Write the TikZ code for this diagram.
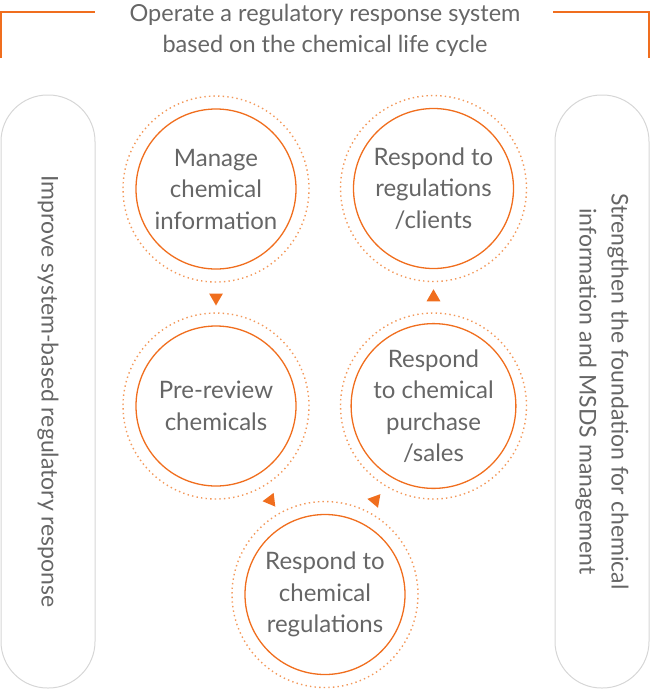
\documentclass[tikz,border=0pt]{standalone}
\usepackage{fontspec}
\setmainfont{Lato}
\usetikzlibrary{shapes.geometric, positioning, calc}
\definecolor{lcOrange}{HTML}{F06E1E}
\definecolor{lcDot}{HTML}{F3985A}
\definecolor{lcText}{HTML}{666666}
\definecolor{lcPill}{HTML}{D6D6D6}

\begin{document}
\begin{tikzpicture}[x=1pt, y=-1pt,
  stage/.style={circle, draw=lcOrange, line width=1.3pt, minimum size=160pt,
    inner sep=0pt, align=center, text=lcText,
    font=\fontsize{24}{31.5}\selectfont},
  halo/.style={circle, draw=lcDot, line width=1.4pt,
    dash pattern=on 1.4pt off 3.2pt, minimum size=186pt, inner sep=0pt},
  tip/.style={regular polygon, regular polygon sides=3, fill=lcOrange,
    minimum size=16pt, inner sep=0pt},
  pill/.style={draw=lcPill, line width=1pt, rounded corners=46.5pt,
    minimum width=593pt, minimum height=94pt, rotate=-90, align=center,
    text=lcText, font=\fontsize{23}{32}\selectfont},
  head/.style={align=center, text=lcText, font=\fontsize{23.5}{31}\selectfont},
  frame/.style={draw=lcOrange, line width=1.3pt}]

  \useasboundingbox (0,0) rectangle (650,689);

  % title and its bracket
  \node[head] (title) at (325,30) {Operate a regulatory response system\\
    based on the chemical life cycle};
  \draw[frame] (1,58) |- (95,12);
  \draw[frame] (553,12) -| (649,58);

  % side pills
  \node[pill] (improve) at (48,391.5) {Improve system-based regulatory response};
  \node[pill] (strengthen) at (602,391.5) {Strengthen the foundation for chemical\\
    information and MSDS management};

  % life cycle stages
  \node[stage] (info) at (216,189) {Manage\\chemical\\information};
  \node[stage] (clients) at (433.5,188.5) {Respond to\\regulations\\/clients};
  \node[stage] (review) at (216,406) {Pre-review\\chemicals};
  \node[stage] (sales) at (433.5,406) {Respond\\to chemical\\purchase\\/sales};
  \node[stage] (regs) at (325,594.5) {Respond to\\chemical\\regulations};

  \node[halo] (info-h) at (info) {};
  \node[halo] (clients-h) at (clients) {};
  \node[halo] (review-h) at (review) {};
  \node[halo] (sales-h) at (sales) {};
  \node[halo] (regs-h) at (regs) {};

  % arrow tips between stages
  \node[tip, shape border rotate=180] (t1) at ($(info)!0.5!(review)$) {};
  \node[tip] (t2) at ($(clients)!0.5!(sales)$) {};
  \node[tip, shape border rotate=97] (t3) at ($(review)!0.5!(regs)$) {};
  \node[tip, shape border rotate=80] (t4) at ($(sales)!0.5!(regs)+(-4,0)$) {};
\end{tikzpicture}
\end{document}
